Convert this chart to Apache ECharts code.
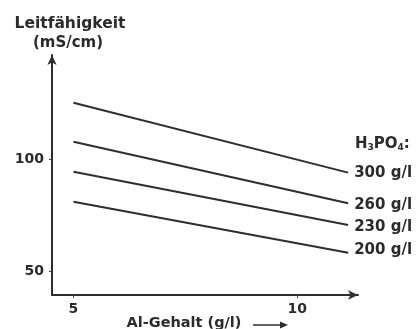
<!DOCTYPE html>
<html>
<head>
<meta charset="utf-8">
<script src="https://cdn.jsdelivr.net/npm/echarts@6/dist/echarts.min.js"></script>
<style>
html,body{margin:0;padding:0;background:#fff;}
#c{width:420px;height:329px;}
</style>
</head>
<body>
<div id="c"></div>
<script>
// Data
const seriesNames = ['300 g/l', '260 g/l', '230 g/l', '200 g/l'];
const xStart = 5.0;
const xEnd = 11.14;
const startValues = [125.1, 107.7, 94.3, 80.9];
const endValues = [93.9, 80.2, 70.5, 58.2];
const xTickValues = [5, 10];
const yTickValues = [50, 100];

const FONT = 'DejaVu Sans';
const TXT = '#2b2b2b';
const labelOffsets = [[0, 0], [0, 2], [0, 2], [0, -3]];

const chart = echarts.init(document.getElementById('c'), null, {renderer: 'canvas'});

const series = seriesNames.map((name, i) => ({
  name: name,
  type: 'line',
  data: [[xStart, startValues[i]], [xEnd, endValues[i]]],
  symbol: 'none',
  silent: true,
  animation: false,
  lineStyle: {color: '#2e2e2e', width: 2},
  endLabel: {
    show: true,
    formatter: name,
    distance: 6,
    offset: labelOffsets[i],
    color: TXT,
    fontFamily: FONT,
    fontWeight: 'bold',
    fontSize: 15
  }
}));

chart.setOption({
  animation: false,
  backgroundColor: '#fff',
  grid: {left: 52, right: 62, top: 55, bottom: 34, containLabel: false, outerBoundsMode: 'none'},
  xAxis: {
    type: 'value',
    min: 4.52,
    max: 11.36,
    splitLine: {show: false},
    axisLine: {show: true, symbol: ['none', 'arrow'], symbolSize: [7, 10], lineStyle: {color: '#2e2e2e', width: 2}},
    axisTick: {show: true, customValues: xTickValues, length: 3, lineStyle: {color: '#444', width: 1}},
    axisLabel: {show: true, customValues: xTickValues, margin: 7, color: TXT, fontFamily: FONT, fontWeight: 'bold', fontSize: 14, showMinLabel: true, showMaxLabel: true}
  },
  yAxis: {
    type: 'value',
    min: 39.3,
    max: 146.4,
    splitLine: {show: false},
    axisLine: {show: true, symbol: ['none', 'arrow'], symbolSize: [7, 10], lineStyle: {color: '#2e2e2e', width: 2}},
    axisTick: {show: true, customValues: yTickValues, length: 3, lineStyle: {color: '#444', width: 1}},
    axisLabel: {show: true, customValues: yTickValues, margin: 8, color: TXT, fontFamily: FONT, fontWeight: 'bold', fontSize: 14}
  },
  graphic: [
    {
      type: 'text', x: 70, y: 24,
      style: {text: 'Leitfähigkeit', fill: TXT, font: 'bold 15.5px "DejaVu Sans"', textAlign: 'center', textVerticalAlign: 'middle'}
    },
    {
      type: 'text', x: 68, y: 43,
      style: {text: '(mS/cm)', fill: TXT, font: 'bold 15px "DejaVu Sans"', textAlign: 'center', textVerticalAlign: 'middle'}
    },
    {
      type: 'text', x: 355, y: 144,
      style: {
        text: '{b|H}{s|3}{b|PO}{s|4}{b|:}',
        textVerticalAlign: 'middle',
        rich: {
          b: {fontFamily: FONT, fontWeight: 'bold', fontSize: 15, fill: TXT, color: TXT, height: 16},
          s: {fontFamily: FONT, fontWeight: 'bold', fontSize: 9, fill: TXT, color: TXT, height: 16, padding: [8, 0, 0, 0]}
        }
      }
    },
    {
      type: 'text', x: 184, y: 323,
      style: {text: 'Al-Gehalt (g/l)', fill: TXT, font: 'bold 14.5px "DejaVu Sans"', textAlign: 'center', textVerticalAlign: 'middle'}
    },
    {
      type: 'line', shape: {x1: 253, y1: 325, x2: 282, y2: 325},
      style: {stroke: '#2e2e2e', lineWidth: 1.5}
    },
    {
      type: 'polygon', shape: {points: [[288, 325], [280, 321.5], [280, 328.5]]},
      style: {fill: '#2e2e2e'}
    }
  ],
  series: series
});
</script>
</body>
</html>
